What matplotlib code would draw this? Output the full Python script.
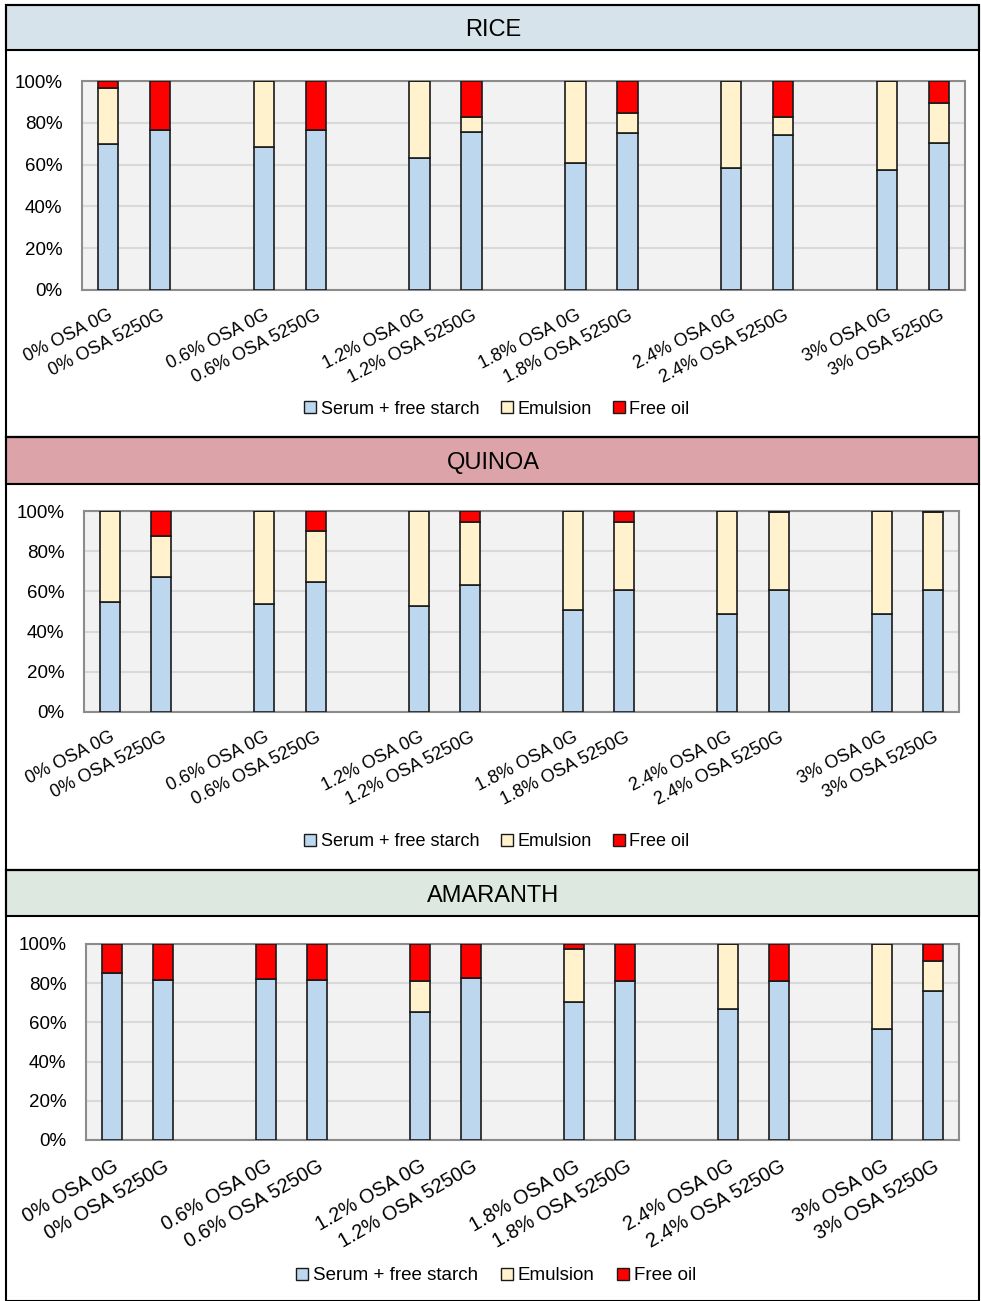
import matplotlib
matplotlib.use("Agg")
import matplotlib.pyplot as plt
from matplotlib.patches import Rectangle, Patch
from matplotlib.ticker import PercentFormatter

plt.rcParams['font.family'] = ['Liberation Sans', 'DejaVu Sans']

categories = ["0% OSA 0G", "0% OSA 5250G", "0.6% OSA 0G", "0.6% OSA 5250G",
              "1.2% OSA 0G", "1.2% OSA 5250G", "1.8% OSA 0G", "1.8% OSA 5250G",
              "2.4% OSA 0G", "2.4% OSA 5250G", "3% OSA 0G", "3% OSA 5250G"]
series_names = ["Serum + free starch", "Emulsion", "Free oil"]

rice_serum = [70.0, 76.5, 68.4, 76.5, 63.3, 75.6, 60.6, 75.0, 58.2, 74.2, 57.6, 70.5]
rice_emulsion = [26.7, 0.0, 31.6, 0.0, 36.7, 7.2, 39.4, 9.8, 41.8, 8.6, 42.4, 18.8]
rice_oil = [3.3, 23.5, 0.0, 23.5, 0.0, 17.2, 0.0, 15.2, 0.0, 17.2, 0.0, 10.7]

quinoa_serum = [54.9, 67.1, 53.5, 64.7, 52.8, 63.1, 50.5, 60.9, 49.0, 60.9, 49.0, 60.9]
quinoa_emulsion = [45.1, 20.6, 46.5, 25.4, 47.2, 31.4, 49.5, 33.6, 51.0, 38.4, 51.0, 38.4]
quinoa_oil = [0.0, 12.3, 0.0, 9.9, 0.0, 5.5, 0.0, 5.5, 0.0, 0.7, 0.0, 0.7]

amaranth_serum = [85.2, 81.4, 82.1, 81.4, 65.3, 82.6, 70.5, 81.2, 66.8, 81.2, 56.7, 76.0]
amaranth_emulsion = [0.0, 0.0, 0.0, 0.0, 15.9, 0.0, 27.1, 0.0, 33.2, 0.0, 43.3, 15.3]
amaranth_oil = [14.8, 18.6, 17.9, 18.6, 18.8, 17.4, 2.4, 18.8, 0.0, 18.8, 0.0, 8.7]

positions = [0, 1, 3, 4, 6, 7, 9, 10, 12, 13, 15, 16]
colors = ["#bdd7ee", "#fff2cc", "#ff0000"]

W, H = 981, 1301
fig = plt.figure(figsize=(W / 100, H / 100), dpi=100)


def rect_fig(x0, y0, x1, y1):
    return [x0 / W, 1 - y1 / H, (x1 - x0) / W, (y1 - y0) / H]


panels = [
    dict(title="RICE", data=(rice_serum, rice_emulsion, rice_oil), band="#d6e3ea",
         box=(6, 5, 979, 437), band_y=(5, 50), ax=(82, 81, 965, 290), leg=(497, 409),
         rot=27, xfs=13, lfs=13),
    dict(title="QUINOA", data=(quinoa_serum, quinoa_emulsion, quinoa_oil), band="#dca3a8",
         box=(6, 437, 979, 870), band_y=(437, 484), ax=(84, 511, 959, 712), leg=(497, 842),
         rot=27, xfs=13, lfs=13),
    dict(title="AMARANTH", data=(amaranth_serum, amaranth_emulsion, amaranth_oil), band="#dde8e0",
         box=(6, 870, 979, 1301), band_y=(870, 916), ax=(86, 944, 959, 1140), leg=(496, 1276),
         rot=30, xfs=14.3, lfs=13.5),
]

for p in panels:
    bx0, by0, bx1, by1 = p["box"]
    fig.patches.append(Rectangle((bx0 / W, 1 - p["band_y"][1] / H), (bx1 - bx0) / W,
                                 (p["band_y"][1] - p["band_y"][0]) / H,
                                 transform=fig.transFigure, facecolor=p["band"],
                                 edgecolor="black", lw=1.5, zorder=0))
    fig.patches.append(Rectangle((bx0 / W, 1 - by1 / H), (bx1 - bx0) / W, (by1 - by0) / H,
                                 transform=fig.transFigure, facecolor="none",
                                 edgecolor="black", lw=1.5, zorder=1))
    fig.text(493 / W, 1 - ((p["band_y"][0] + p["band_y"][1]) / 2 + 3) / H,
             p["title"], ha="center", va="center", fontsize=17)

    ax = fig.add_axes(rect_fig(*p["ax"]))
    ax.set_facecolor("#f2f2f2")
    serum, emul, oil = p["data"]
    bottoms = [0.0] * len(positions)
    for vals, col, name in zip((serum, emul, oil), colors, series_names):
        ax.bar(positions, vals, width=0.39, bottom=bottoms, color=col,
               edgecolor="#1a1a1a", linewidth=1.2, label=name, zorder=3)
        bottoms = [b + v for b, v in zip(bottoms, vals)]
    ax.set_xlim(-0.5, 16.5)
    ax.set_ylim(0, 100)
    ax.set_yticks([0, 20, 40, 60, 80, 100])
    ax.yaxis.set_major_formatter(PercentFormatter(decimals=0))
    ax.grid(axis="y", color="#d9d9d9", lw=1.5, zorder=0)
    ax.set_axisbelow(True)
    for s in ax.spines.values():
        s.set_color("#8c8c8c")
        s.set_linewidth(1.5)
    ax.tick_params(axis="both", length=0, labelsize=13.5)
    ax.tick_params(axis="y", pad=14)
    ax.set_xticks(positions)
    ax.set_xticklabels(categories, rotation=p["rot"], ha="right", va="top",
                       rotation_mode="anchor", fontsize=p["xfs"])
    ax.tick_params(axis="x", pad=12)

    handles = [Patch(facecolor=c, edgecolor="#1a1a1a", lw=1.0) for c in colors]
    lx, ly = p["leg"]
    fig.legend(handles, series_names, loc="center", bbox_to_anchor=(lx / W, 1 - ly / H),
               ncol=3, frameon=False, fontsize=p["lfs"], handlelength=0.65, handleheight=0.65,
               handletextpad=0.25, columnspacing=1.2)

fig.savefig("out.png", dpi=100)
